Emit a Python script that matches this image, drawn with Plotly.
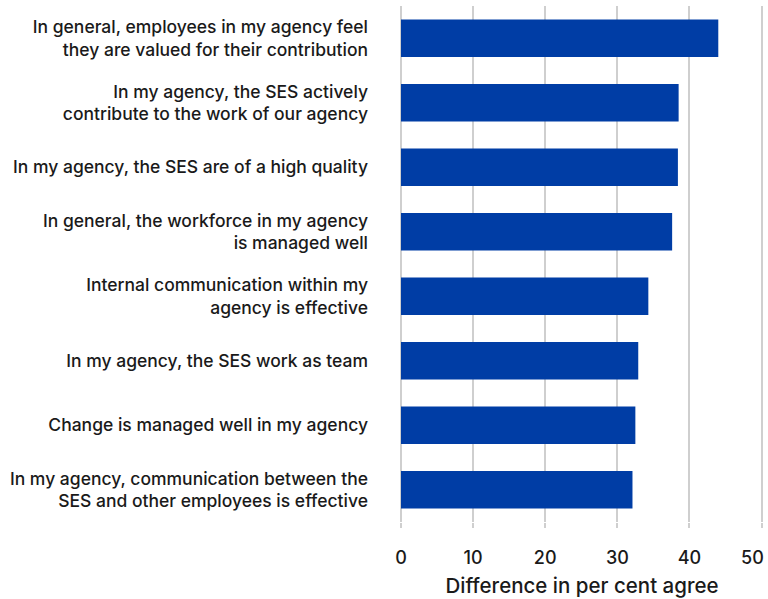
import plotly.graph_objects as go

statements = [
    "In general, employees in my agency feel<br>they are valued for their contribution",
    "In my agency, the SES actively<br>contribute to the work of our agency",
    "In my agency, the SES are of a high quality",
    "In general, the workforce in my agency<br>is managed well",
    "Internal communication within my<br>agency is effective",
    "In my agency, the SES work as team",
    "Change is managed well in my agency",
    "In my agency, communication between the<br>SES and other employees is effective",
]
difference = [44.0, 38.5, 38.4, 37.6, 34.3, 32.9, 32.5, 32.1]
tick_values = [0, 10, 20, 30, 40, 50]
tick_labels = ["0", "10", "20", "30", "40", "50"]

BAR_COLOR = "#003da5"
GRID = "#cfcfcf"
TEXT = "#1a1a1a"
FONT = "Inter"

# the last label sits at the page edge, so it is drawn separately and nudged left
tick_text = tick_labels[:-1] + [""]

fig = go.Figure(
    go.Bar(
        x=difference,
        y=statements,
        orientation="h",
        marker=dict(color=BAR_COLOR, line=dict(width=0)),
        width=0.58,
        hoverinfo="skip",
    )
)

fig.update_layout(
    width=768,
    height=599,
    margin=dict(l=401, r=5, t=6, b=77),
    plot_bgcolor="white",
    paper_bgcolor="white",
    font=dict(family=FONT, size=15, color=TEXT, weight=500),
    showlegend=False,
)

fig.add_annotation(
    x=tick_values[-1],
    xref="x",
    y=0,
    yref="paper",
    text=tick_labels[-1],
    showarrow=False,
    xanchor="center",
    yanchor="middle",
    xshift=-9,
    yshift=-35,
    font=dict(size=18, color=TEXT, family=FONT, weight=500),
)

fig.update_xaxes(
    range=[0, 50.2],  # a touch past 50 so the last gridline is drawn
    tickvals=tick_values,
    ticktext=tick_text,
    showgrid=True,
    gridcolor=GRID,
    gridwidth=1.5,
    zeroline=True,
    zerolinecolor=GRID,
    zerolinewidth=1.5,
    ticks="outside",
    ticklen=5,
    tickcolor=GRID,
    tickwidth=1.5,
    ticklabelstandoff=14,
    tickfont=dict(size=18),
    title=dict(text="Difference in per cent agree", font=dict(size=20.5), standoff=12),
    showline=False,
    automargin=False,
)

fig.update_yaxes(
    autorange="reversed",
    showgrid=False,
    ticks="",
    ticklabelstandoff=32,
    tickfont=dict(size=17.5),
    automargin=False,
)

# drop the default body margin so the 768x599 figure fills the window
fig.write_html(
    "out.html",
    config={"displayModeBar": False},
    post_script="document.body.style.margin = '0';",
)
